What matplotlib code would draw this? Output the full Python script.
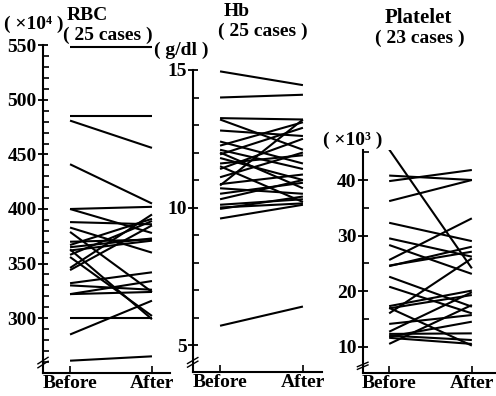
import matplotlib
matplotlib.use("Agg")
import matplotlib.pyplot as plt

plt.rcParams['font.family'] = ['Liberation Serif', 'DejaVu Serif']
plt.rcParams['font.weight'] = 'bold'

# x categories
groups = ["Before", "After"]

# RBC (x10^4), 25 cases
rbc_before = [548, 485, 481, 441, 400, 400, 388, 383, 379, 367, 365, 362, 358,
              356, 346, 344, 370, 363, 332, 330, 322, 322, 300, 285, 261]
rbc_after = [548, 485, 456, 405, 402, 378, 386, 360, 324, 391, 373, 371, 389,
             302, 395, 385, 372, 299, 342, 326, 334, 324, 300, 316, 265]

# Hb (g/dl), 25 cases
hb_before = [14.95, 14.0, 13.25, 13.2, 12.8, 12.4, 12.25, 12.0, 11.93, 11.8,
             11.6, 11.4, 11.1, 10.85, 10.7, 10.8, 10.5, 10.1, 10.0, 9.95,
             9.6, 11.5, 12.1, 10.3, 5.7]
hb_after = [14.45, 14.1, 13.2, 12.1, 12.6, 11.6, 13.1, 10.7, 12.9, 11.0,
            11.9, 12.5, 12.0, 11.2, 10.5, 13.2, 10.9, 10.3, 10.15, 10.4,
            10.1, 10.2, 11.4, 11.0, 6.4]

# Platelet (x10^3), 23 cases
plt_before = [45.5, 40.8, 39.8, 36.2, 32.3, 25.6, 29.5, 28.3, 24.5, 22.6,
              20.8, 17.3, 16.9, 16.0, 14.1, 12.7, 12.3, 11.8, 10.5, 12.0,
              17.0, 11.6, 24.6]
plt_after = [24.1, 40.0, 41.8, 40.0, 29.0, 33.1, 26.2, 23.1, 28.0, 17.2,
             16.0, 20.1, 19.3, 25.9, 15.7, 19.8, 12.4, 14.5, 17.5, 11.2,
             10.2, 10.5, 27.1]

W, H = 496, 396
fig = plt.figure(figsize=(W / 100, H / 100), dpi=100)


def rect(l, r, top, bot):
    return [l / W, 1 - bot / H, (r - l) / W, (bot - top) / H]


def panel(pos, before, after, xlim, ylim, major, minor):
    ax = fig.add_axes(pos)
    for b, a in zip(before, after):
        ax.plot([0, 1], [b, a], color='black', lw=1.5, solid_capstyle='butt')
    ax.set_xlim(*xlim)
    ax.set_ylim(*ylim)
    ax.set_xticks([0, 1])
    ax.set_xticklabels(groups, fontsize=14)
    ax.set_yticks(major)
    ax.set_yticks(minor, minor=True)
    ax.tick_params(axis='y', which='major', direction='inout', length=7,
                   width=1.3, labelsize=14, pad=1)
    ax.tick_params(axis='y', which='minor', direction='in', length=4, width=1.2)
    ax.tick_params(axis='x', direction='in', length=5, width=1.2, pad=2)
    for s in ['top', 'right']:
        ax.spines[s].set_visible(False)
    for s in ['left', 'bottom']:
        ax.spines[s].set_linewidth(1.5)
    # axis break mark
    for dy in (0.0, 0.012):
        ax.plot([-0.04, 0.04], [0.015 + dy, 0.035 + dy], transform=ax.transAxes,
                color='black', lw=1.0, clip_on=False)
    return ax


panel(rect(43, 170, 45.3, 372.7), rbc_before, rbc_after,
      (-0.33, 1.22), (250, 550),
      [300, 350, 400, 450, 500, 550], list(range(260, 550, 10)))

panel(rect(192.7, 322, 70, 371.7), hb_before, hb_after,
      (-0.33, 1.23), (4.03, 15),
      [5, 10, 15], list(range(5, 16)))

panel(rect(362.7, 495, 150, 372.7), plt_before, plt_after,
      (-0.32, 1.28), (5.32, 45.4),
      [10, 20, 30, 40], [15, 25, 35, 45])


def ftext(x, y, s, size=12, ha='left'):
    fig.text(x / W, 1 - y / H, s, fontsize=size, ha=ha, va='center',
             fontweight='bold')


ftext(4, 24, "( ×10⁴ )", 14)
ftext(67, 16, "RBC", 14)
ftext(63, 35, "( 25 cases )", 14)
ftext(154, 50, "( g/dl )", 14)
ftext(224, 12, "Hb", 14)
ftext(218, 31, "( 25 cases )", 14)
ftext(418, 18, "Platelet", 15, ha='center')
ftext(420, 38, "( 23 cases )", 14, ha='center')
ftext(323, 140, "( ×10³ )", 14)

fig.savefig("out.png", dpi=100)
